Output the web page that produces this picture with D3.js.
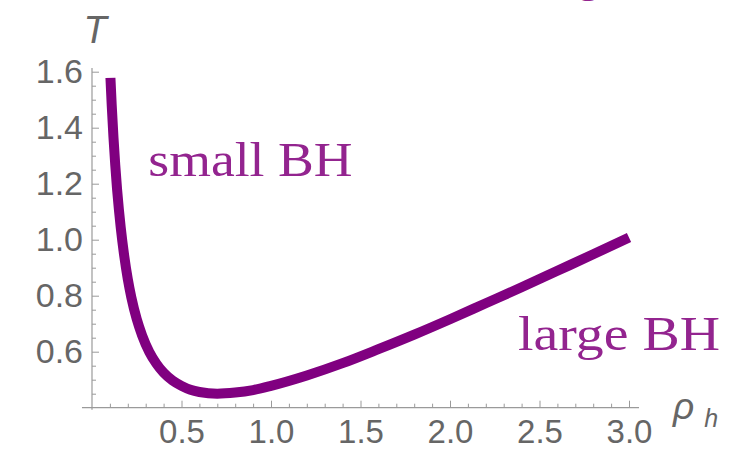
<!DOCTYPE html>
<html>
<head>
<meta charset="utf-8">
<script src="https://cdn.jsdelivr.net/npm/d3@7"></script>
<style>
  html, body { margin: 0; padding: 0; background: #fff; }
  svg { display: block; }
</style>
</head>
<body>
<svg id="chart" width="753" height="451"></svg>
<script>
// Horizon radius rho_h and temperature T along the black-hole branch
const rhoValues = [0.103, 0.11, 0.12, 0.13, 0.14, 0.15, 0.16, 0.18, 0.20, 0.22, 0.25, 0.28,
                   0.32, 0.36, 0.40, 0.45, 0.50, 0.55, 0.60, 0.70, 0.80, 0.90, 1.0, 1.2,
                   1.4, 1.6, 1.8, 2.0, 2.2, 2.4, 2.6, 2.8, 3.0];
const tempValues = [1.578, 1.482, 1.365, 1.266, 1.181, 1.109, 1.046, 0.942, 0.859, 0.793, 0.716, 0.658,
                    0.599, 0.557, 0.525, 0.497, 0.478, 0.464, 0.456, 0.450, 0.454, 0.463, 0.478, 0.515,
                    0.559, 0.609, 0.661, 0.716, 0.773, 0.830, 0.889, 0.948, 1.008];

const xMajorTicks = [0.5, 1.0, 1.5, 2.0, 2.5, 3.0];
const xMinorTicks = [0.1, 0.2, 0.3, 0.4, 0.6, 0.7, 0.8, 0.9, 1.1, 1.2, 1.3, 1.4, 1.6, 1.7, 1.8, 1.9,
                     2.1, 2.2, 2.3, 2.4, 2.6, 2.7, 2.8, 2.9];
const yMajorTicks = [0.6, 0.8, 1.0, 1.2, 1.4, 1.6];
const yMinorTicks = [0.45, 0.5, 0.55, 0.65, 0.7, 0.75, 0.85, 0.9, 0.95, 1.05, 1.1, 1.15,
                     1.25, 1.3, 1.35, 1.45, 1.5, 1.55];

const branchLabels = [
  { text: "small BH", rho: 0.315, T: 1.228, width: 204 },
  { text: "large BH", rho: 2.38, T: 0.605, width: 202 }
];

const svg = d3.select("#chart");

const x = d3.scaleLinear().domain([0, 3.0]).range([92, 629]);
const y = d3.scaleLinear().domain([0.4, 1.6]).range([407.7, 71.7]);

const axisGrey = "#9a9a9a";
const labelGrey = "#666666";
const tickFont = "'Liberation Sans', Arial, sans-serif";

// axis lines, extended slightly past the plotted range
svg.append("line")
  .attr("x1", x(-0.056)).attr("x2", x(3.056))
  .attr("y1", y(0.4)).attr("y2", y(0.4))
  .attr("stroke", axisGrey).attr("stroke-width", 1.2);
svg.append("line")
  .attr("x1", x(0)).attr("x2", x(0))
  .attr("y1", y(1.613)).attr("y2", y(0.393))
  .attr("stroke", axisGrey).attr("stroke-width", 1.2);

function styleAxis(g, size) {
  g.select(".domain").remove();
  g.selectAll(".tick line").attr("stroke", axisGrey).attr("stroke-width", 1);
  g.selectAll(".tick text")
    .attr("fill", labelGrey)
    .style("font-family", tickFont)
    .style("font-size", size + "px");
}

// x axis: inward ticks
svg.append("g")
  .attr("transform", `translate(0,${y(0.4)})`)
  .call(d3.axisBottom(x).tickValues(xMinorTicks).tickSize(-4).tickFormat(""))
  .call(styleAxis, 33);
svg.append("g")
  .attr("transform", `translate(0,${y(0.4)})`)
  .call(d3.axisBottom(x).tickValues(xMajorTicks).tickSize(-7).tickPadding(12)
        .tickFormat(d3.format(".1f")))
  .call(styleAxis, 33);

// y axis: inward ticks
svg.append("g")
  .attr("transform", `translate(${x(0)},0)`)
  .call(d3.axisLeft(y).tickValues(yMinorTicks).tickSize(-4).tickFormat(""))
  .call(styleAxis, 34);
svg.append("g")
  .attr("transform", `translate(${x(0)},0)`)
  .call(d3.axisLeft(y).tickValues(yMajorTicks).tickSize(-7).tickPadding(9)
        .tickFormat(d3.format(".1f")))
  .call(styleAxis, 34);

// axis titles
svg.append("text")
  .attr("x", 95).attr("y", 43)
  .attr("text-anchor", "middle")
  .attr("fill", labelGrey)
  .style("font-family", tickFont).style("font-style", "italic").style("font-size", "38px")
  .text("T");

const rhoLabel = svg.append("text")
  .attr("x", 673).attr("y", 419)
  .attr("fill", labelGrey)
  .style("font-family", tickFont).style("font-style", "italic");
rhoLabel.append("tspan").style("font-size", "37px").text("ρ");
rhoLabel.append("tspan").attr("dx", 10).attr("dy", 8).style("font-size", "25px").text("h");

// temperature curve
const points = rhoValues.map((r, i) => [r, tempValues[i]]);
const line = d3.line()
  .x(d => x(d[0]))
  .y(d => y(d[1]))
  .curve(d3.curveMonotoneX);

svg.append("path")
  .datum(points)
  .attr("d", line)
  .attr("fill", "none")
  .attr("stroke", "#800080")
  .attr("stroke-width", 10)
  .attr("stroke-linecap", "butt")
  .attr("stroke-linejoin", "round");

// branch labels
const serif = "'Liberation Serif', 'Times New Roman', serif";
svg.selectAll("text.branch")
  .data(branchLabels)
  .join("text")
  .attr("class", "branch")
  .attr("x", d => x(d.rho))
  .attr("y", d => y(d.T))
  .attr("fill", "#93248f")
  .attr("textLength", d => d.width)
  .attr("lengthAdjust", "spacingAndGlyphs")
  .style("font-family", serif)
  .style("font-size", "48px")
  .text(d => d.text);

// tail of the heading that runs off the top edge
svg.append("text")
  .attr("x", 577).attr("y", -9)
  .attr("fill", "#93248f")
  .style("font-family", serif)
  .style("font-size", "46px")
  .text("g");
</script>
</body>
</html>
